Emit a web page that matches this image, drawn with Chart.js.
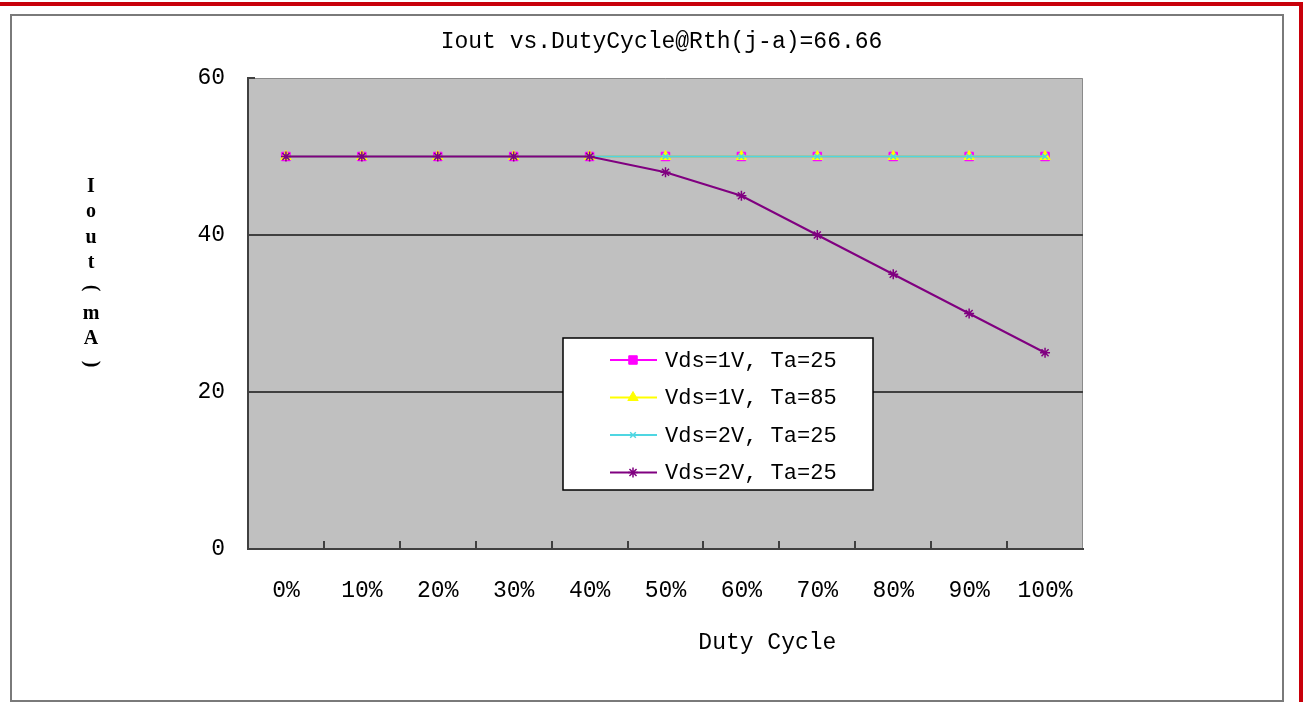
<!DOCTYPE html>
<html>
<head>
<meta charset="utf-8">
<title>Iout vs. DutyCycle</title>
<script src="https://cdn.jsdelivr.net/npm/chart.js@4/dist/chart.umd.min.js"></script>
<style>
  html, body { margin: 0; padding: 0; background: #fff; }
  #wrap { position: relative; width: 1306px; height: 702px; overflow: hidden; }
  .red-top { position: absolute; left: 0; top: 2px; width: 1303px; height: 4px; background: #c8000a; }
  .red-right { position: absolute; left: 1299px; top: 2px; width: 4px; height: 700px; background: #c8000a; }
  .frame { position: absolute; left: 10px; top: 14px; width: 1274px; height: 688px; border: 2px solid #7a7a7a; box-sizing: border-box; }
  canvas { position: absolute; left: 0; top: 0; }
</style>
</head>
<body>
<div id="wrap">
  <div class="red-top"></div>
  <div class="red-right"></div>
  <div class="frame"></div>
  <canvas id="chart" width="1306" height="702"></canvas>
</div>
<script>
// values
const categories = ['0%', '10%', '20%', '30%', '40%', '50%', '60%', '70%', '80%', '90%', '100%'];
const vds1Ta25 = [50, 50, 50, 50, 50, 50, 50, 50, 50, 50, 50];
const vds1Ta85 = [50, 50, 50, 50, 50, 50, 50, 50, 50, 50, 50];
const vds2Ta25 = [50, 50, 50, 50, 50, 50, 50, 50, 50, 50, 50];
const vds2Ta25b = [50, 50, 50, 50, 50, 48, 45, 40, 35, 30, 25];
const seriesNames = ['Vds=1V, Ta=25', 'Vds=1V, Ta=85', 'Vds=2V, Ta=25', 'Vds=2V, Ta=25'];
const yTicks = [0, 20, 40, 60];

const chartTitle = 'Iout vs.DutyCycle@Rth(j-a)=66.66';
const xTitle = 'Duty Cycle';
const yTitleChars = ['I', 'o', 'u', 't', '(', 'm', 'A', ')'];

const mono = '"Liberation Mono", "DejaVu Sans Mono", monospace';

// grey plot area, inward tick marks, titles and the boxed legend
const excelLook = {
  id: 'excelLook',
  beforeDraw(chart) {
    const { ctx, chartArea: a } = chart;
    ctx.save();
    ctx.fillStyle = '#c0c0c0';
    ctx.fillRect(a.left, a.top, a.right - a.left, a.bottom - a.top);
    ctx.strokeStyle = '#8a8a8a';
    ctx.lineWidth = 1;
    ctx.beginPath();
    ctx.moveTo(a.left, a.top + 0.5);
    ctx.lineTo(a.right - 0.5, a.top + 0.5);
    ctx.lineTo(a.right - 0.5, a.bottom);
    ctx.stroke();
    ctx.restore();
  },
  afterDraw(chart) {
    const { ctx, chartArea: a, scales: { x, y } } = chart;
    ctx.save();

    // tick marks pointing into the plot
    ctx.strokeStyle = '#404040';
    ctx.lineWidth = 2;
    ctx.beginPath();
    for (let i = 1; i < categories.length; i++) {
      const px = Math.round((x.getPixelForValue(i - 1) + x.getPixelForValue(i)) / 2);
      ctx.moveTo(px, a.bottom);
      ctx.lineTo(px, a.bottom - 8);
    }
    yTicks.forEach(v => {
      const py = Math.round(y.getPixelForValue(v));
      ctx.moveTo(a.left, py);
      ctx.lineTo(a.left + 7, py);
    });
    ctx.stroke();

    // chart title
    ctx.fillStyle = '#000';
    ctx.font = '23px ' + mono;
    ctx.textAlign = 'center';
    ctx.textBaseline = 'middle';
    ctx.fillText(chartTitle, (a.left + a.right) / 2 - 4, 42);

    // x axis title (sits right of centre in the original)
    ctx.fillText(xTitle, a.left + (a.right - a.left) * 0.622, 643);

    // stacked y axis title
    ctx.font = 'bold 20px "Liberation Serif", serif';
    yTitleChars.forEach((ch, i) => {
      const cy = 187 + i * 25.3;
      if (ch === '(' || ch === ')') {
        ctx.save();
        ctx.translate(91, cy);
        ctx.rotate(Math.PI / 2);
        ctx.fillText(ch, 0, 0);
        ctx.restore();
      } else {
        ctx.fillText(ch, 91, cy);
      }
    });

    // legend box
    const box = { left: 563, top: 338, width: 310, height: 152 };
    ctx.fillStyle = '#fff';
    ctx.fillRect(box.left, box.top, box.width, box.height);
    ctx.strokeStyle = '#000';
    ctx.lineWidth = 1.5;
    ctx.strokeRect(box.left, box.top, box.width, box.height);

    ctx.font = '22px ' + mono;
    ctx.textAlign = 'left';
    chart.data.datasets.forEach((ds, i) => {
      const ly = box.top + 22 + i * 37.5;
      ctx.strokeStyle = ds.borderColor;
      ctx.lineWidth = 2;
      ctx.beginPath();
      ctx.moveTo(box.left + 47, ly);
      ctx.lineTo(box.left + 94, ly);
      ctx.stroke();
      ctx.fillStyle = ds.pointBackgroundColor;
      ctx.strokeStyle = ds.pointBorderColor;
      ctx.lineWidth = ds.pointBorderWidth;
      if (Chart.helpers && Chart.helpers.drawPoint) {
        Chart.helpers.drawPoint(ctx, {
          pointStyle: ds.pointStyle, radius: ds.pointRadius,
          borderWidth: ds.pointBorderWidth, rotation: 0
        }, box.left + 70, ly);
      } else {
        ctx.fillRect(box.left + 66, ly - 4, 8, 8);
      }
      ctx.fillStyle = '#000';
      ctx.fillText(ds.label, box.left + 102, ly + 1);
    });

    ctx.restore();
  }
};

const tickFont = { family: mono, size: 23 };

new Chart(document.getElementById('chart'), {
  type: 'line',
  data: {
    labels: categories,
    datasets: [
      {
        label: seriesNames[0], data: vds1Ta25, order: 4,
        borderColor: '#ff00ff', borderWidth: 2,
        pointStyle: 'rect', pointRadius: 6,
        pointBackgroundColor: '#ff00ff', pointBorderColor: '#ff00ff', pointBorderWidth: 1
      },
      {
        label: seriesNames[1], data: vds1Ta85, order: 3,
        borderColor: '#ffff00', borderWidth: 2,
        pointStyle: 'triangle', pointRadius: 6,
        pointBackgroundColor: '#ffff00', pointBorderColor: '#ffff00', pointBorderWidth: 1
      },
      {
        label: seriesNames[2], data: vds2Ta25, order: 2,
        borderColor: '#4fd6e2', borderWidth: 2,
        pointStyle: 'crossRot', pointRadius: 4,
        pointBackgroundColor: '#4fd6e2', pointBorderColor: '#4fd6e2', pointBorderWidth: 1.5
      },
      {
        label: seriesNames[3], data: vds2Ta25b, order: 1,
        borderColor: '#800080', borderWidth: 2,
        pointStyle: 'star', pointRadius: 5,
        pointBackgroundColor: '#800080', pointBorderColor: '#800080', pointBorderWidth: 1.5
      }
    ]
  },
  options: {
    responsive: false,
    animation: false,
    layout: { padding: { top: 78, left: 20, right: 223, bottom: 20 } },
    plugins: {
      legend: { display: false },
      title: { display: false },
      tooltip: { enabled: false }
    },
    elements: { line: { tension: 0 } },
    scales: {
      x: {
        type: 'category',
        offset: true,
        grid: { display: false },
        border: { display: true, color: '#404040', width: 2 },
        ticks: { font: tickFont, color: '#000', padding: 20, maxRotation: 0, autoSkip: false },
        afterFit(scale) { scale.height = 133; }
      },
      y: {
        min: 0,
        max: 60,
        afterBuildTicks(scale) { scale.ticks = yTicks.map(v => ({ value: v })); },
        grid: {
          color: c => (c.tick && (c.tick.value === 20 || c.tick.value === 40)) ? '#404040' : 'rgba(0,0,0,0)',
          lineWidth: 2,
          drawTicks: false
        },
        border: { display: true, color: '#404040', width: 2 },
        ticks: { font: tickFont, color: '#000', padding: 23 },
        afterFit(scale) { scale.width = 228; }
      }
    }
  },
  plugins: [excelLook]
});
</script>
</body>
</html>
